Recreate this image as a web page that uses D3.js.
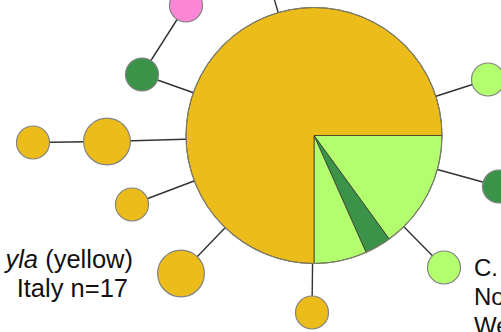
<!DOCTYPE html>
<html>
<head>
<meta charset="utf-8">
<script src="https://cdn.jsdelivr.net/npm/d3@7/dist/d3.min.js"></script>
<style>
  html, body { margin: 0; padding: 0; background: #fff; overflow: hidden; }
  svg { display: block; }
  text { font-family: "Liberation Sans", Arial, sans-serif; fill: #111; }
</style>
</head>
<body>
<svg id="chart" width="501" height="332"></svg>
<script>
// Haplotype network: node ids, layout coordinates (relative to the central haplotype),
// sample counts and group colours.
const nodeIds     = ["H1", "H2", "H3", "H4", "H5", "H6", "H7", "H8", "H9", "H10", "H11", "H12"];
const nodeX       = [0, -128, -172, -207, -281, -182, -133, -2, 130, 185, 174, -51];
const nodeY       = [0, -130, -61, 6, 7, 69, 138, 177, 132, 51, -56, -175];
const nodeCounts  = [60, 1, 1, 2, 1, 1, 2, 1, 1, 1, 1, 1];
const nodeGroup   = ["mixed", "pink", "dkgreen", "yellow", "yellow", "yellow", "yellow", "yellow", "ltgreen", "dkgreen", "ltgreen", "yellow"];

// Mutational links between haplotypes
const linkSource  = ["H1", "H3", "H1", "H4", "H1", "H1", "H1", "H1", "H1", "H1", "H1"];
const linkTarget  = ["H3", "H2", "H4", "H5", "H6", "H7", "H8", "H9", "H10", "H11", "H12"];

// Composition of the central haplotype, clockwise from 3 o'clock
const hubGroups   = ["ltgreen", "dkgreen", "ltgreen", "yellow"];
const hubCounts   = [9, 2, 4, 45];

const groupColor = {
  yellow:  "#ECBC1B",
  ltgreen: "#B2FE6F",
  dkgreen: "#3A9349",
  pink:    "#FB86D6"
};

const svg = d3.select("#chart");
const cx = 314, cy = 135.5;

const x = d3.scaleLinear().domain([-300, 200]).range([cx - 300, cx + 200]);
const y = d3.scaleLinear().domain([-150, 200]).range([cy - 150, cy + 200]);
const r = d3.scaleSqrt().domain([0, 60]).range([0, 128]);

const nodes = nodeIds.map((id, i) => ({
  id, x: nodeX[i], y: nodeY[i], n: nodeCounts[i], group: nodeGroup[i]
}));
const byId = new Map(nodes.map(d => [d.id, d]));
const links = linkSource.map((s, i) => ({ source: byId.get(s), target: byId.get(linkTarget[i]) }));

// Links
svg.append("g")
  .selectAll("line")
  .data(links)
  .join("line")
  .attr("x1", d => x(d.source.x))
  .attr("y1", d => y(d.source.y))
  .attr("x2", d => x(d.target.x))
  .attr("y2", d => y(d.target.y))
  .attr("stroke", "#333")
  .attr("stroke-width", 1.4);

// Single-group haplotypes
svg.append("g")
  .selectAll("circle")
  .data(nodes.filter(d => d.group !== "mixed"))
  .join("circle")
  .attr("cx", d => x(d.x))
  .attr("cy", d => y(d.y))
  .attr("r", d => r(d.n))
  .attr("fill", d => groupColor[d.group])
  .attr("stroke", "#838383")
  .attr("stroke-width", 1.2);

// Central haplotype drawn as a pie
const hub = nodes[0];
const hubR = r(hub.n);
const pie = d3.pie().sort(null).value(d => d.v)
  .startAngle(Math.PI / 2).endAngle(Math.PI / 2 + 2 * Math.PI);
const arc = d3.arc().innerRadius(0).outerRadius(hubR);
const hubG = svg.append("g").attr("transform", `translate(${x(hub.x)},${y(hub.y)})`);
hubG.selectAll("path")
  .data(pie(hubCounts.map((v, i) => ({ v, g: hubGroups[i] }))))
  .join("path")
  .attr("d", arc)
  .attr("fill", d => groupColor[d.data.g])
  .attr("stroke", "#3a3a2a")
  .attr("stroke-width", 0.8)
  .attr("stroke-linejoin", "round");
hubG.append("circle")
  .attr("r", hubR)
  .attr("fill", "none")
  .attr("stroke", "#7d7d6d")
  .attr("stroke-width", 1.1);

// Group labels
const left = svg.append("g").attr("font-size", 25.5);
const l1 = left.append("text").attr("x", 133).attr("y", 268).attr("text-anchor", "end");
l1.append("tspan").attr("font-style", "italic").text("yla");
l1.append("tspan").text(" (yellow)");
left.append("text").attr("x", 128).attr("y", 297).attr("text-anchor", "end").text("Italy n=17");

const right = svg.append("g").attr("font-size", 24);
right.append("text").attr("x", 474).attr("y", 276).text("C.");
right.append("text").attr("x", 474).attr("y", 305).text("No");
right.append("text").attr("x", 474).attr("y", 334).text("We");
</script>
</body>
</html>
